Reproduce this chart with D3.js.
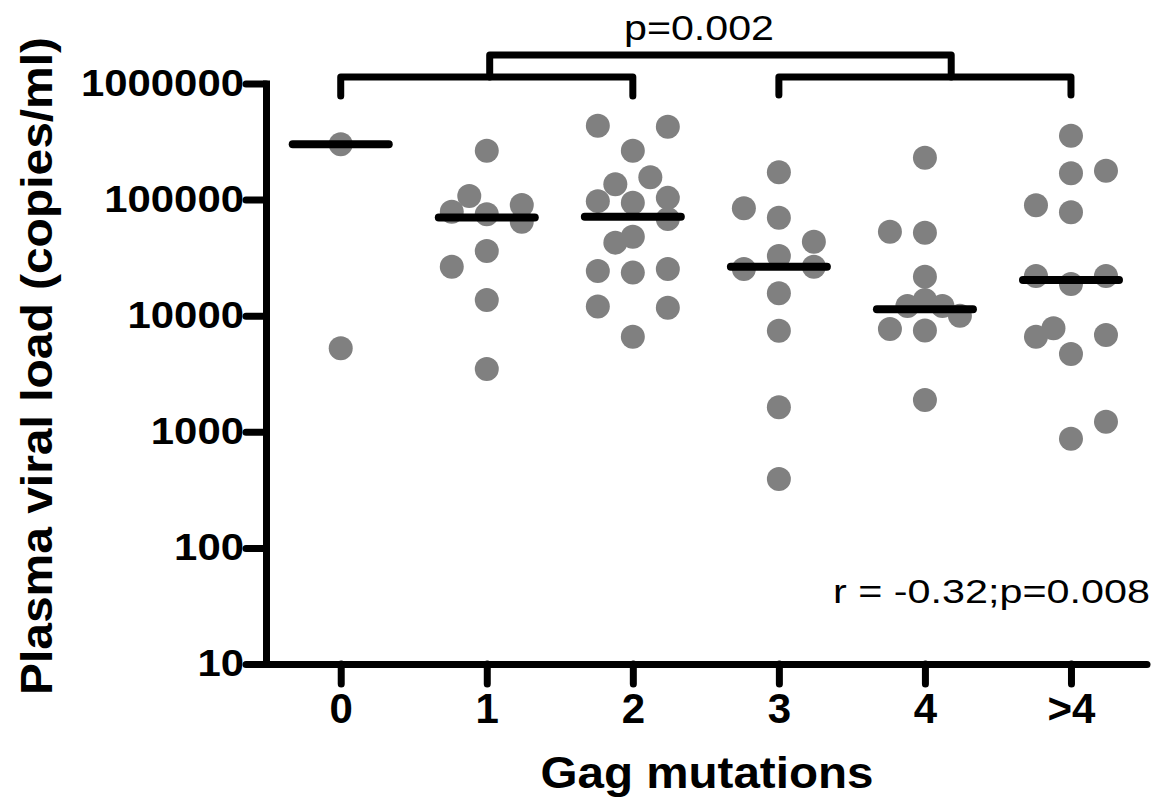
<!DOCTYPE html>
<html>
<head>
<meta charset="utf-8">
<script src="https://cdn.jsdelivr.net/npm/d3@7/dist/d3.min.js"></script>
<style>
	html, body { margin: 0; padding: 0; background: #fff; }
	svg { display: block; font-family: Arial, 'Liberation Sans', Helvetica, sans-serif; }
</style>
</head>
<body>
<div id="chart"></div>
<script>
// categories on the x axis
const categories = ['0', '1', '2', '3', '4', '>4'];

// viral load (copies/ml) per group
const load0 = [300000, 5240];
const load1 = [263700, 107400, 89800, 78700, 74700, 64500, 36100, 26400, 13650, 3475];
const load2 = [433000, 425000, 264000, 155700, 135400, 97000, 94000, 103500, 68000, 47900, 42600, 24300, 23500, 25200, 11980, 11720, 6590];
const load3 = [171900, 84100, 69800, 43400, 32700, 25200, 26400, 15600, 7430, 1626, 392];
const load4 = [229600, 52900, 51900, 21700, 13650, 12130, 12130, 10000, 7680, 7450, 1880];
const load5 = [354800, 177500, 168700, 89400, 77800, 21990, 22000, 18750, 7790, 6590, 6820, 4680, 1222, 873];

// scatter lane of each point (-2..2, left to right) as drawn in the figure
const lanes0 = [0, 0];
const lanes1 = [0, -1, 2, -2, 0, 2, 0, -2, 0, 0];
const lanes2 = [-2, 2, 0, 1, -1, -2, 0, 2, 2, 0, -1, -2, 0, 2, -2, 2, 0];
const lanes3 = [0, -2, 0, 2, 0, -2, 2, 0, 0, 0, 0];
const lanes4 = [0, -2, 0, 0, 0, -1, 1, 2, -2, 0, 0];
const lanes5 = [0, 2, 0, -2, 0, -2, 2, 0, -1, -2, 2, 0, 2, 0];

// median bars
const medians = [300000, 70000, 71300, 26400, 11350, 20300];

// y tick labels
const yTicks = [10, 100, 1000, 10000, 100000, 1000000];

const groups = [load0, load1, load2, load3, load4, load5];
const laneGroups = [lanes0, lanes1, lanes2, lanes3, lanes4, lanes5];

const options = {
	w: 1157,
	h: 805,
	left: 266,
	right: 1147,
	top: 83.5,
	bottom: 664,
	lineW: 7,
	dotR: 12,
	dotColor: '#808080',
	medianHalf: 48,
	medianW: 8
};

const svg = d3.select('#chart')
	.append('svg')
	.attr('width', options.w)
	.attr('height', options.h)
	.attr('viewBox', `0 0 ${options.w} ${options.h}`);

const x = d3.scalePoint()
	.domain(categories)
	.range([267.7, 1144])
	.padding(0.5);

const y = d3.scaleLog()
	.domain([10, 1e6])
	.range([options.bottom, options.top]);

const lane = d3.scaleLinear().domain([-2, 2]).range([-35, 35]);
const xAt = i => x(categories[0]) + i * x.step();

// y axis
const yAxis = svg.append('g')
	.attr('transform', `translate(${options.left},0)`)
	.call(d3.axisLeft(y)
		.tickValues(yTicks)
		.tickFormat(d3.format('d'))
		.tickSize(20)
		.tickSizeOuter(0)
		.tickPadding(2));

yAxis.select('.domain')
	.attr('stroke-width', options.lineW)
	.attr('stroke-linecap', 'square');
yAxis.selectAll('.tick line')
	.attr('stroke-width', options.lineW)
	.attr('stroke-linecap', 'round');
yAxis.selectAll('.tick text')
	.attr('font-size', 37)
	.attr('font-weight', 'bold')
	.attr('font-family', 'Arial, Liberation Sans, sans-serif')
	.attr('fill', '#000')
	.attr('textLength', d => String(d).length * 23.3)
	.attr('lengthAdjust', 'spacingAndGlyphs');

// x axis
const xAxis = svg.append('g')
	.attr('transform', `translate(0,${options.bottom})`)
	.call(d3.axisBottom(x)
		.tickSize(20)
		.tickSizeOuter(0)
		.tickPadding(9));

xAxis.select('.domain')
	.attr('d', `M${options.left},0.5H${options.right}`)
	.attr('stroke-width', options.lineW)
	.attr('stroke-linecap', 'round');
xAxis.selectAll('.tick line')
	.attr('stroke-width', options.lineW)
	.attr('stroke-linecap', 'round');
xAxis.selectAll('.tick text')
	.attr('font-size', 42)
	.attr('font-weight', 'bold')
	.attr('font-family', 'Arial, Liberation Sans, sans-serif')
	.attr('fill', '#000');

// points
const dots = categories.flatMap((c, gi) => groups[gi].map((v, i) => ({ c, v, lane: laneGroups[gi][i] })));

svg.append('g')
	.selectAll('circle')
	.data(dots)
	.join('circle')
	.attr('cx', d => x(d.c) + lane(d.lane))
	.attr('cy', d => y(d.v))
	.attr('r', options.dotR)
	.attr('fill', options.dotColor);

// median bars
svg.append('g')
	.selectAll('line')
	.data(medians)
	.join('line')
	.attr('x1', (d, i) => x(categories[i]) - options.medianHalf)
	.attr('x2', (d, i) => x(categories[i]) + options.medianHalf)
	.attr('y1', d => y(d))
	.attr('y2', d => y(d))
	.attr('stroke', '#000')
	.attr('stroke-width', options.medianW)
	.attr('stroke-linecap', 'round');

// comparison brackets
const brackets = [
	{ from: 0, to: 2, level: 77, drop: 19 },
	{ from: 3, to: 5, level: 77, drop: 18 },
	{ from: 1.02, to: 4.18, level: 55, drop: 22 }
];
const bracketLine = d3.line();

svg.append('g')
	.selectAll('path')
	.data(brackets)
	.join('path')
	.attr('d', b => bracketLine([
		[xAt(b.from), b.level + b.drop],
		[xAt(b.from), b.level],
		[xAt(b.to), b.level],
		[xAt(b.to), b.level + b.drop]
	]))
	.attr('fill', 'none')
	.attr('stroke', '#000')
	.attr('stroke-width', options.lineW)
	.attr('stroke-linejoin', 'round')
	.attr('stroke-linecap', 'round');

// annotations
svg.append('text')
	.attr('x', 699)
	.attr('y', 40)
	.attr('text-anchor', 'middle')
	.attr('font-size', 35)
	.attr('textLength', 150)
	.attr('lengthAdjust', 'spacingAndGlyphs')
	.text('p=0.002');

svg.append('text')
	.attr('x', 833)
	.attr('y', 603)
	.attr('font-size', 33)
	.attr('textLength', 317)
	.attr('lengthAdjust', 'spacingAndGlyphs')
	.text('r = -0.32;p=0.008');

// axis titles
svg.append('text')
	.attr('transform', 'translate(52,366) rotate(-90)')
	.attr('text-anchor', 'middle')
	.attr('font-size', 44)
	.attr('font-weight', 'bold')
	.attr('textLength', 658)
	.attr('lengthAdjust', 'spacingAndGlyphs')
	.text('Plasma viral load (copies/ml)');

svg.append('text')
	.attr('x', 707)
	.attr('y', 788)
	.attr('text-anchor', 'middle')
	.attr('font-size', 44)
	.attr('font-weight', 'bold')
	.attr('textLength', 333)
	.attr('lengthAdjust', 'spacingAndGlyphs')
	.text('Gag mutations');
</script>
</body>
</html>
